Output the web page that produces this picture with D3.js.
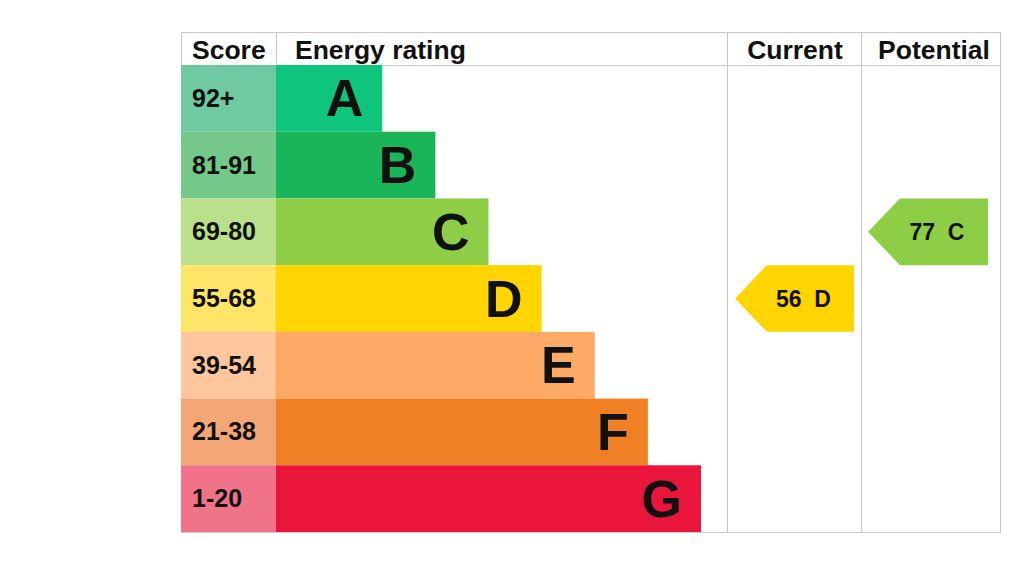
<!DOCTYPE html>
<html>
<head>
<meta charset="utf-8">
<script src="https://cdn.jsdelivr.net/npm/d3@7"></script>
<style>
  body { margin: 0; background: #fff; }
  svg { display: block; font-family: "Liberation Sans", Arial, sans-serif; }
</style>
</head>
<body>
<svg id="chart" width="1024" height="563"></svg>
<script>
// bands, score ranges and relative bar length
const bands = ["A", "B", "C", "D", "E", "F", "G"];
const scoreRanges = ["92+", "81-91", "69-80", "55-68", "39-54", "21-38", "1-20"];
const barLength = [2, 3, 4, 5, 6, 7, 8];
const barColors = ["#0fc47c", "#1ab558", "#8dce46", "#ffd500", "#fcaa65", "#ef8024", "#e9153b"];
const scoreColors = ["#6fc9a1", "#74c98a", "#bae08b", "#ffe567", "#fdc69d", "#f4a776", "#f0738a"];
const headers = ["Score", "Energy rating", "Current", "Potential"];

const currentScore = 56, currentBand = "D";
const potentialScore = 77, potentialBand = "C";

const svg = d3.select("#chart");
const m = { left: 181, right: 1000, top: 32, bottom: 532 };
const headH = 33;
const scoreW = 95;
const colCurrent = 727, colPotential = 861;
const grid = "#c8c8c8";

const y = d3.scaleBand()
  .domain(bands)
  .range([m.top + headH, m.bottom])
  .padding(0);

const x = d3.scaleLinear()
  .domain([0, 8])
  .range([m.left + scoreW, 701]);

// outer frame + column lines
svg.append("rect")
  .attr("x", m.left + 0.5).attr("y", m.top + 0.5)
  .attr("width", m.right - m.left).attr("height", m.bottom - m.top)
  .attr("fill", "none").attr("stroke", grid).attr("stroke-width", 1);

svg.append("line")
  .attr("x1", m.left).attr("x2", m.right)
  .attr("y1", m.top + headH + 0.5).attr("y2", m.top + headH + 0.5)
  .attr("stroke", grid);

[m.left + scoreW, colCurrent, colPotential].forEach((cx, i) => {
  svg.append("line")
    .attr("x1", cx + 0.5).attr("x2", cx + 0.5)
    .attr("y1", m.top).attr("y2", i === 0 ? m.top + headH : m.bottom)
    .attr("stroke", grid);
});

// header texts
const headX = [192, 295, 795, 934];
svg.selectAll("text.head")
  .data(headers)
  .join("text")
  .attr("class", "head")
  .attr("x", (d, i) => headX[i])
  .attr("y", m.top + 27)
  .attr("text-anchor", (d, i) => i < 2 ? "start" : "middle")
  .attr("font-size", 26.5)
  .attr("font-weight", "bold")
  .attr("fill", "#111")
  .text(d => d);

// score cells
svg.selectAll("rect.score")
  .data(bands)
  .join("rect")
  .attr("class", "score")
  .attr("x", m.left)
  .attr("y", d => y(d))
  .attr("width", scoreW)
  .attr("height", y.bandwidth())
  .attr("fill", (d, i) => scoreColors[i]);

svg.selectAll("text.score")
  .data(bands)
  .join("text")
  .attr("class", "score")
  .attr("x", m.left + 11)
  .attr("y", d => y(d) + y.bandwidth() / 2 + 8.5)
  .attr("font-size", 25)
  .attr("font-weight", "bold")
  .attr("fill", "#111")
  .text((d, i) => scoreRanges[i]);

// rating bars
svg.selectAll("rect.bar")
  .data(bands)
  .join("rect")
  .attr("class", "bar")
  .attr("x", x(0))
  .attr("y", d => y(d))
  .attr("width", (d, i) => x(barLength[i]) - x(0))
  .attr("height", y.bandwidth())
  .attr("fill", (d, i) => barColors[i]);

svg.selectAll("text.band")
  .data(bands)
  .join("text")
  .attr("class", "band")
  .attr("x", (d, i) => x(barLength[i]) - 19)
  .attr("y", d => y(d) + y.bandwidth() / 2 + 18)
  .attr("text-anchor", "end")
  .attr("font-size", 52)
  .attr("font-weight", "bold")
  .attr("fill", "#111")
  .text(d => d);

// current / potential arrows
function arrow(band, score, x0, x1) {
  const yt = y(band), h = y.bandwidth(), tip = 32;
  const pts = [[x0, yt + h / 2], [x0 + tip, yt], [x1, yt], [x1, yt + h], [x0 + tip, yt + h]];
  svg.append("path")
    .attr("d", d3.line()(pts) + "Z")
    .attr("fill", barColors[bands.indexOf(band)]);
  svg.append("text")
    .attr("x", (x0 + x1) / 2 + 9)
    .attr("y", yt + h / 2 + 8)
    .attr("text-anchor", "middle")
    .attr("font-size", 23)
    .attr("font-weight", "bold")
    .attr("fill", "#111")
    .style("white-space", "pre")
    .text(score + "  " + band);
}
arrow(currentBand, currentScore, 735, 854);
arrow(potentialBand, potentialScore, 868, 988);
</script>
</body>
</html>
